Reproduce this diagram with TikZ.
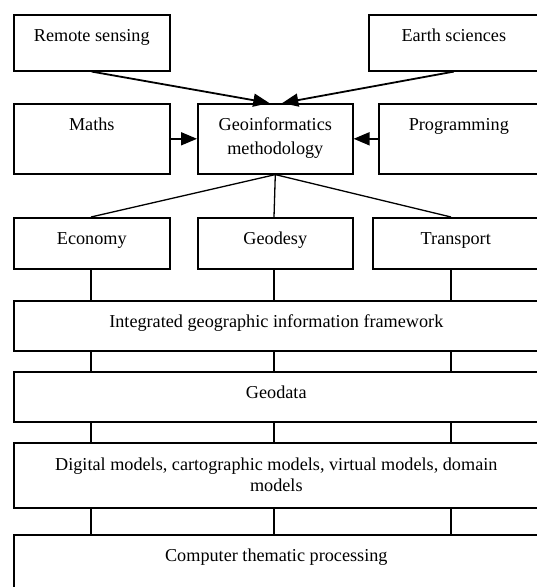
\documentclass[tikz,border=0pt]{standalone}
\usepackage{fontspec}
\setmainfont{Liberation Serif}
\usetikzlibrary{arrows.meta,positioning}

\begin{document}
\begin{tikzpicture}[x=1pt, y=-1pt,
    font=\fontsize{18.2}{21}\selectfont,
    box/.style={draw, line width=1.6pt, anchor=north west, inner sep=0pt,
        align=center, text height=27pt, minimum width=#1},
    twoline/.style={text height=#1},
    arr/.style={-{Triangle[length=16pt,width=13pt]}, line width=1.8pt},
    link/.style={line width=1.3pt}
]
    \useasboundingbox (0,0) rectangle (537,587);
    \clip (0,0) rectangle (537,587);
    % sources
    \node[box=156pt, text depth=29pt] (remote) at (13,14) {Remote sensing};
    \node[box=170pt, text depth=29pt] (earth) at (368,14) {Earth sciences};
    \node[box=156pt, text depth=43pt] (maths) at (13,103) {Maths};
    \node[box=155pt, twoline=51pt, text depth=19pt] (geo) at (197,103) {Geoinformatics\\[3pt]methodology};
    \node[box=160pt, text depth=43pt] (prog) at (378,103) {Programming};
    \draw[arr] (remote.south) -- ([xshift=-6pt]geo.north);
    \draw[arr] (earth.south) -- ([xshift=7pt]geo.north);
    \draw[arr] (maths.east) -- (geo.west);
    \draw[arr] (prog.west) -- (geo.east);
    % branches
    \node[box=156pt, text depth=24pt] (econ) at (13,217) {Economy};
    \node[box=155pt, text depth=24pt] (geodesy) at (197,217) {Geodesy};
    \node[box=166pt, text depth=24pt] (transport) at (372,217) {Transport};
    \coordinate (colA) at (91,0);
    \coordinate (colB) at (274,0);
    \coordinate (colC) at (451,0);
    \draw[link] (geo.south) -- (colA |- econ.north);
    \draw[link] (geo.south) -- (colB |- geodesy.north);
    \draw[link] (geo.south) -- (colC |- transport.north);
    % layers
    \node[box=525pt, text depth=23pt] (integ) at (13,300) {Integrated geographic information framework};
    \node[box=525pt, text depth=23pt] (geodata) at (13,371) {Geodata};
    \node[box=525pt, twoline=49pt, text depth=16pt] (models) at (13,442) {Digital models, cartographic models, virtual models, domain\\models};
    \node[box=525pt, text depth=43pt] (proc) at (13,534) {Computer thematic processing};
    \foreach \c in {colA,colB,colC} {
        \draw[link] (\c |- econ.south) -- (\c |- integ.north);
        \draw[link] (\c |- integ.south) -- (\c |- geodata.north);
        \draw[link] (\c |- geodata.south) -- (\c |- models.north);
        \draw[link] (\c |- models.south) -- (\c |- proc.north);
    }
\end{tikzpicture}
\end{document}
